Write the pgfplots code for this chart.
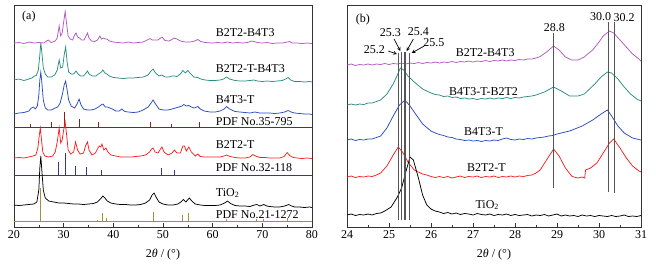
\documentclass[border=0pt]{standalone}
\usepackage{fontspec}
\setmainfont{Liberation Serif}
\usepackage{pgfplots}
\pgfplotsset{compat=1.18}
\definecolor{cpur}{RGB}{176,88,190}
\definecolor{cteal}{RGB}{40,140,128}
\definecolor{cblue}{RGB}{40,75,190}
\definecolor{cdred}{RGB}{140,30,30}
\definecolor{cred}{RGB}{250,30,30}
\definecolor{cnavy}{RGB}{55,55,135}
\definecolor{colive}{RGB}{150,150,60}
\definecolor{cgray}{RGB}{85,85,85}
\tikzset{lab/.style={font=\fontsize{12}{14}\selectfont, inner sep=0pt}}
\pgfplotsset{
  xrdaxis/.style={
    anchor=south west, scale only axis, height=222pt,
    ymin=5, ymax=227, y dir=reverse, ytick=\empty,
    xtick pos=bottom, tick align=inside,
    major tick length=4pt, minor tick length=2.5pt,
    minor x tick num=1,
    tick label style={font=\fontsize{12}{14}\selectfont},
    /pgf/number format/assume math mode=true,
    xlabel={2\textit{θ} / (°)},
    xlabel style={font=\fontsize{12}{14}\selectfont, at={(axis description cs:0.5,-0.126)}, anchor=center},
    every axis plot/.append style={line width=0.75pt, mark=none},
    axis line style={line width=0.8pt, black!80},
    every tick/.style={black!80, line width=0.6pt},
    unbounded coords=jump,
    clip=true,
  },
}
\begin{document}
\begin{tikzpicture}
\path[use as bounding box] (0,0) rectangle (656pt,269pt);
% ---------------- (a) ----------------
\begin{axis}[xrdaxis, at={(14pt,42pt)}, width=298pt, xmin=20, xmax=80, xtick={20,30,...,80}]
% B2T2-B4T3
\addplot[cpur] coordinates {(20,43) (21,42.5) (22,43.5) (23,42) (24,43) (25,42.5) (26,43) (26.9,40) (27.5,42.5) (28.3,41) (28.7,38) (29.1,26) (29.4,36) (29.7,33) (30.0,22) (30.3,11.5) (30.6,24) (30.9,36) (31.3,39) (31.8,40) (32.2,35) (32.5,33) (32.8,37) (33.2,38) (33.6,40) (34.1,40) (34.5,36) (34.8,33) (35.1,38) (35.6,41) (36.2,41.5) (36.8,40) (37.3,36) (37.6,39) (38.0,38) (38.4,39) (38.7,39) (39.2,41) (40,42) (41,42.5) (42,43) (43,42) (44,43) (45,42.5) (46,42) (46.8,40) (47.4,38.5) (47.8,40) (48.4,40) (49.0,40) (49.8,37) (50.4,40.5) (51.2,41) (51.8,39.5) (52.2,38) (52.8,39) (53.5,41) (54.5,42) (55.5,42) (56.4,41) (57.0,39.5) (57.6,41.5) (58.5,42.5) (60,43) (61,42.5) (62,43) (63,42) (64,43) (65,42.5) (66,43) (67,42.5) (67.8,41) (68.3,41.5) (69,42.5) (70,43) (71,42.5) (72,43.5) (73,43) (74,43) (75,42) (75.5,41.5) (76,43) (77,43) (78,43.5) (79,43) (80,43.5)};
% B2T2-T-B4T3
\addplot[cteal] coordinates {(20,80) (21,79) (22,80.5) (23,79) (23.6,78) (24.1,76) (24.5,75.5) (24.9,70) (25.2,55) (25.4,43) (25.6,52) (25.9,68) (26.3,74) (26.8,77) (27.5,77) (28.2,75) (28.7,70) (29.1,60) (29.4,68) (29.8,67) (30.1,55) (30.4,47) (30.7,62) (31.0,72) (31.5,74) (32.0,74) (32.5,71) (32.9,74) (33.4,76) (34.0,76) (34.5,73) (34.8,71) (35.1,74) (35.8,76) (36.5,76) (37.0,74) (37.3,73) (37.6,72) (37.9,70) (38.3,73) (38.7,74) (39.2,76) (40,77.5) (41,78) (42,78.5) (43,78) (44,78) (45,77.5) (46,77) (47.0,75) (47.6,71) (48.0,69) (48.5,73) (49.2,76) (49.8,75) (50.4,77) (51.2,77) (51.8,76) (52.3,76) (52.8,76.5) (53.5,74) (54.0,70.5) (54.5,73) (55.0,70.5) (55.6,74) (56.2,77) (57.0,77.5) (57.6,79) (58.5,80) (59.5,80.5) (60.5,80.5) (61.5,80) (62.2,79) (62.8,77) (63.4,79) (64.5,80.5) (65.5,81) (66.5,81) (67.5,80.5) (68.3,80) (69,81) (70,81.5) (71,81) (72,81.5) (73,81) (74,80.5) (74.7,79) (75.2,77.5) (75.7,80) (76.5,81.5) (77.5,81.5) (78.5,82) (79.5,81.5) (80,82)};
% B4T3-T
\addplot[cblue] coordinates {(20,114) (21,113) (22,112.5) (23,111) (23.5,108) (23.9,107) (24.3,109) (24.7,106) (25.0,95) (25.2,80) (25.4,72) (25.6,82) (25.9,100) (26.3,108) (26.8,110) (27.5,110) (28.3,108) (28.8,107) (29.3,103) (29.8,93) (30.1,85) (30.4,81) (30.7,90) (31.0,100) (31.5,106) (32.2,108) (32.7,104) (33.1,99) (33.5,105) (34.0,109) (34.8,110) (35.5,110) (36.3,109) (37.0,107) (37.5,105) (37.9,104) (38.4,107) (38.8,107) (39.3,108) (39.8,109) (40.5,111) (41.2,111) (41.7,109) (42.3,111.5) (43,112) (44,112.5) (45,112) (46,110) (47.0,107) (47.6,103) (48.0,100) (48.5,104) (49.2,109) (50,110) (51,110) (51.8,109) (52.5,108) (53.2,107) (53.8,106) (54.2,104.5) (54.7,106) (55.2,105.5) (55.7,107) (56.3,108) (57.0,106.5) (57.5,109) (58.3,111) (59.5,112) (60.5,112) (61.5,111) (62.3,109) (62.8,106.5) (63.4,109) (64.5,111.5) (65.5,112) (66.5,112.5) (67.5,113) (68.5,112) (69.5,113) (70.5,113) (71.5,113) (72.5,113.5) (73.5,113) (74.5,112) (75.2,110.5) (75.8,112) (76.5,113) (77.5,113.5) (78.5,114) (79.5,114) (80,114.5)};
% PDF 35-795
\addplot[cdred, line width=0.9pt] coordinates {(20,127.7) (80,127.7)};
\addplot[cdred, line width=0.9pt] coordinates {(23.4,127.7) (23.4,124) (23.4,nan) (27.6,127.7) (27.6,122) (27.6,nan) (30.1,127.7) (30.1,112) (30.1,nan) (33.1,127.7) (33.1,119) (33.1,nan) (37.1,127.7) (37.1,122) (37.1,nan) (47.4,127.7) (47.4,122) (47.4,nan) (51.8,127.7) (51.8,124) (51.8,nan) (57.4,127.7) (57.4,122)};
% B2T2-T
\addplot[cred] coordinates {(20,158) (21,157.5) (22,158) (23,157) (23.8,156) (24.4,155) (24.8,148) (25.1,135) (25.3,128) (25.5,138) (25.8,152) (26.2,156) (27,157) (27.8,156) (28.3,152) (28.7,142) (29.1,128) (29.4,143) (29.7,140) (30.0,130) (30.3,122) (30.6,135) (30.9,150) (31.4,154) (32.0,152) (32.4,142) (32.8,150) (33.3,154) (34.0,153) (34.4,146) (34.8,142) (35.1,150) (35.7,155) (36.4,153) (36.9,148) (37.2,146) (37.5,147) (37.7,144) (38.1,150) (38.5,148) (38.9,152) (39.5,155) (40.5,156) (41.5,157) (42.5,157) (43.5,157) (44.5,156.5) (45.5,156) (46.5,155) (47.3,152) (47.7,149) (48.0,148) (48.4,152) (49.0,153) (49.5,149) (49.8,147) (50.2,152) (51.0,155) (51.8,153) (52.3,150) (52.8,153) (53.5,153) (54.0,146) (54.3,146) (54.7,151) (55.2,147) (55.7,152) (56.5,156) (57.0,154) (57.5,156.5) (58.5,157) (59.5,157) (60.5,157) (61.5,157) (62.3,156) (62.8,155) (63.5,156.5) (64.5,157.5) (65.5,158) (66.5,158) (67.5,157) (68.1,154.5) (68.6,156) (69.5,157.5) (70.5,157.5) (71.5,158) (72.5,158) (73.5,158) (74.4,156.5) (75.0,152.5) (75.5,155.5) (76.2,157.5) (77,158) (78,158.5) (79,158) (80,158.5)};
% PDF 32-118
\addplot[cnavy, line width=0.9pt] coordinates {(20,175) (80,175)};
\addplot[cnavy, line width=0.9pt] coordinates {(28.9,175) (28.9,162) (28.9,nan) (30.3,175) (30.3,153) (30.3,nan) (32.3,175) (32.3,166) (32.3,nan) (34.6,175) (34.6,167) (34.6,nan) (37.7,175) (37.7,170) (37.7,nan) (49.7,175) (49.7,168) (49.7,nan) (52.3,175) (52.3,170)};
% TiO2
\addplot[black] coordinates {(20,205) (21,205.5) (22,205) (23,204.5) (24,204) (24.6,202) (25.0,190) (25.2,168) (25.4,156) (25.6,170) (25.9,190) (26.3,198) (27,201) (28,202) (29,203) (30,203) (31,203.5) (32,204) (33,204) (34,204.5) (35,204) (36,203.5) (36.8,202) (37.4,199) (37.9,196) (38.3,198) (38.8,201) (39.5,203) (40.5,204) (41.5,204.5) (42.5,204.5) (43.5,205) (44.5,205) (45.5,204.5) (46.5,203) (47.3,200) (47.8,195) (48.2,193) (48.6,197) (49.2,202) (50,204) (51,205) (52,205) (53,204) (53.6,202) (54.1,199.5) (54.6,202) (55.3,198) (55.8,201) (56.5,204) (57.5,205) (58.5,205.5) (59.5,205.5) (60.5,205.5) (61.5,205) (62.4,203) (63.0,201) (63.6,203.5) (64.5,205.5) (65.5,206) (66.5,206) (67.5,206.5) (68.4,205) (68.9,204.5) (69.5,206) (70.3,204.5) (70.9,206) (71.5,206.5) (72.5,207) (73.5,207) (74.5,206) (75.3,204.5) (75.9,206) (76.5,207) (77.5,207) (78.5,207.5) (79.5,207) (80,207.5)};
% PDF 21-1272
\addplot[colive, line width=0.9pt] coordinates {(20,221.7) (80,221.7)};
\addplot[colive, line width=0.9pt] coordinates {(25.4,221.7) (25.4,188) (25.4,nan) (36.9,221.7) (36.9,219.5) (36.9,nan) (37.8,221.7) (37.8,213) (37.8,nan) (38.6,221.7) (38.6,218) (38.6,nan) (48.1,221.7) (48.1,212) (48.1,nan) (53.9,221.7) (53.9,215) (53.9,nan) (55.1,221.7) (55.1,213) (55.1,nan) (62.7,221.7) (62.7,219) (62.7,nan) (68.8,221.7) (68.8,219) (68.8,nan) (70.3,221.7) (70.3,219) (70.3,nan) (75.1,221.7) (75.1,218)};
\node[lab] at (axis cs:23.0,17) {(a)};
\node[lab, anchor=west] at (axis cs:60.6,33) {B2T2-B4T3};
\node[lab, anchor=west] at (axis cs:60.6,69) {B2T2-T-B4T3};
\node[lab, anchor=west] at (axis cs:60.6,100) {B4T3-T};
\node[lab, anchor=west] at (axis cs:60.6,122) {PDF No.35-795};
\node[lab, anchor=west] at (axis cs:60.6,145) {B2T2-T};
\node[lab, anchor=west] at (axis cs:60.6,168) {PDF No.32-118};
\node[lab, anchor=west] at (axis cs:60.6,193) {TiO\textsubscript{2}};
\node[lab, anchor=west] at (axis cs:60.6,215) {PDF No.21-1272};
\end{axis}
% ---------------- (b) ----------------
\begin{axis}[xrdaxis, at={(347pt,42pt)}, width=294pt, xmin=24, xmax=31, xtick={24,25,...,31}]
\addplot[cpur] coordinates {(24.0,65) (24.1,64) (24.2,65.5) (24.3,64.5) (24.4,65) (24.5,64) (24.6,65) (24.7,64) (24.8,64.5) (24.9,63.5) (25.0,64.5) (25.1,63.5) (25.2,64) (25.3,63) (25.4,64) (25.5,63) (25.6,63.5) (25.7,62.5) (25.8,63.5) (25.9,62.5) (26.0,63) (26.1,62) (26.2,63) (26.3,62) (26.4,62.5) (26.5,61.5) (26.6,62.5) (26.7,61.5) (26.8,62) (26.9,61) (27.0,62) (27.1,61) (27.2,61.5) (27.3,60.5) (27.4,61.5) (27.5,60.5) (27.6,61) (27.7,60) (27.8,61) (27.9,60) (28.0,60.5) (28.1,59.5) (28.2,60) (28.3,59) (28.4,59) (28.5,58) (28.6,56.5) (28.75,52) (28.92,46) (29.05,50) (29.2,57) (29.35,60) (29.5,60) (29.65,57) (29.7,55) (29.85,50) (30.0,42) (30.1,36) (30.25,31) (30.35,33) (30.5,40) (30.65,47) (30.8,54) (30.95,59) (31,61)};
\addplot[cteal] coordinates {(24,105) (24.1,104) (24.2,105) (24.3,104) (24.4,104.5) (24.5,103) (24.6,103) (24.7,101.5) (24.8,100) (24.95,94) (25.1,84) (25.2,75) (25.27,68) (25.35,70) (25.45,76) (25.6,82) (25.8,89) (26.0,93) (26.1,94.5) (26.2,95) (26.3,96.5) (26.4,96) (26.5,97.5) (26.6,97) (26.7,98.5) (26.8,98) (26.9,99) (27.0,98.5) (27.1,99.5) (27.2,98.5) (27.3,99) (27.4,98) (27.5,99) (27.6,98) (27.7,98.5) (27.8,97.5) (27.9,98.5) (28.0,97.5) (28.1,98) (28.2,97) (28.3,96.5) (28.4,96) (28.5,95) (28.7,92) (28.92,87) (29.1,91) (29.3,96) (29.5,96) (29.65,94) (29.75,90) (29.9,84) (30.05,77) (30.2,72) (30.3,73) (30.45,79) (30.6,87) (30.75,94) (30.9,99) (31,101)};
\addplot[cblue] coordinates {(24,140) (24.1,139) (24.2,140.5) (24.3,139.5) (24.4,140) (24.5,139) (24.6,139) (24.7,137.5) (24.8,136) (24.95,128) (25.1,116) (25.25,105) (25.38,100) (25.5,106) (25.65,115) (25.8,124) (26.0,131) (26.1,133) (26.2,134.5) (26.3,135.5) (26.4,137) (26.5,137.5) (26.6,139) (26.7,139.5) (26.8,140.5) (26.9,140) (27.0,141) (27.1,140.5) (27.2,141.5) (27.3,140.5) (27.4,141) (27.5,140) (27.6,140.5) (27.7,139) (27.8,138) (27.9,139.5) (28.0,140) (28.1,139) (28.2,139.5) (28.3,138.5) (28.4,139) (28.5,138) (28.6,137.5) (28.7,137) (28.8,136) (28.9,135.5) (29.0,134) (29.3,131) (29.6,126) (29.85,120) (30.05,114) (30.2,110) (30.3,116) (30.45,126) (30.6,133) (30.8,138) (31,140)};
\addplot[cred] coordinates {(24,177) (24.1,176) (24.2,177.5) (24.3,176.5) (24.4,177) (24.5,176) (24.6,176.5) (24.7,175) (24.8,173) (24.95,166) (25.1,155) (25.22,147) (25.32,152) (25.45,162) (25.6,170) (25.8,174) (25.9,175) (26.0,176.5) (26.1,177.5) (26.2,176.5) (26.3,177.5) (26.4,176.5) (26.5,178) (26.6,177) (26.7,176) (26.8,177.5) (26.9,176.5) (27.0,177) (27.1,176) (27.2,177.5) (27.3,176.5) (27.4,177) (27.5,176) (27.6,177.5) (27.7,176.5) (27.8,177) (27.9,176) (28.0,177) (28.1,176) (28.2,176.5) (28.3,175.5) (28.4,175) (28.5,173) (28.6,170) (28.75,160) (28.92,149) (29.05,156) (29.2,168) (29.35,176) (29.4,177) (29.5,178) (29.6,177) (29.66,178) (29.68,170) (29.8,168) (29.95,163) (30.1,153) (30.25,143) (30.35,139) (30.5,148) (30.65,158) (30.8,166) (30.95,171) (31,172)};
\addplot[black] coordinates {(24,215) (24.1,214) (24.2,215.5) (24.3,214.5) (24.4,215) (24.5,214) (24.6,215) (24.7,213.5) (24.8,213) (24.9,211) (25.05,207) (25.2,197) (25.3,188) (25.4,172) (25.5,157) (25.58,160) (25.7,178) (25.8,195) (25.9,205) (26.0,209) (26.1,211) (26.2,212) (26.3,213.5) (26.4,212.5) (26.5,214) (26.6,213) (26.7,214.5) (26.8,213.5) (26.9,214) (27.0,215) (27.1,213.5) (27.2,214.5) (27.3,215) (27.4,214) (27.5,215.5) (27.6,214.5) (27.7,215) (27.8,214) (27.9,215.5) (28.0,214.5) (28.1,215.5) (28.2,215) (28.3,214.5) (28.4,216) (28.5,215) (28.6,215.5) (28.7,214.5) (28.8,216) (28.9,215) (29.0,214) (29.1,216) (29.2,215) (29.3,216) (29.4,215.5) (29.5,216.5) (29.6,215) (29.7,216) (29.8,215.5) (29.9,216.5) (30.0,215.5) (30.1,216) (30.2,216.5) (30.3,215.5) (30.4,216.5) (30.5,216) (30.6,215) (30.7,216.5) (30.8,216) (30.9,216.5) (31.0,215.5)};
\addplot[cgray, line width=1.2pt] coordinates {(25.22,53) (25.22,220) (25.22,nan) (25.3,52) (25.3,220) (25.3,nan) (25.38,52) (25.38,220) (25.38,nan) (25.49,53) (25.49,220) (25.49,nan) (28.92,33) (28.92,188) (28.92,nan) (30.22,22) (30.22,192) (30.22,nan) (30.37,22) (30.37,193)};
\node[lab] at (axis cs:24.38,20) {(b)};
\node[lab] at (axis cs:24.65,50) {25.2};
\node[lab] at (axis cs:25.03,33) {25.3};
\node[lab] at (axis cs:25.7,32) {25.4};
\node[lab] at (axis cs:26.07,43) {25.5};
\node[lab] at (axis cs:28.94,28) {28.8};
\node[lab] at (axis cs:30.04,17) {30.0};
\node[lab] at (axis cs:30.6,18) {30.2};
\draw[-stealth, line width=0.7pt] (axis cs:24.98,51) -- (axis cs:25.19,54);
\draw[-stealth, line width=0.7pt] (axis cs:25.12,39) -- (axis cs:25.27,51);
\draw[-stealth, line width=0.7pt] (axis cs:25.58,39) -- (axis cs:25.42,51);
\draw[-stealth, line width=0.7pt] (axis cs:25.84,46) -- (axis cs:25.54,53);
\node[lab] at (axis cs:27.29,53) {B2T2-B4T3};
\node[lab] at (axis cs:27.25,92) {B4T3-T-B2T2};
\node[lab] at (axis cs:27.25,132) {B4T3-T};
\node[lab] at (axis cs:27.32,168) {B2T2-T};
\node[lab] at (axis cs:27.34,205) {TiO\textsubscript{2}};
\end{axis}
\end{tikzpicture}
\end{document}
